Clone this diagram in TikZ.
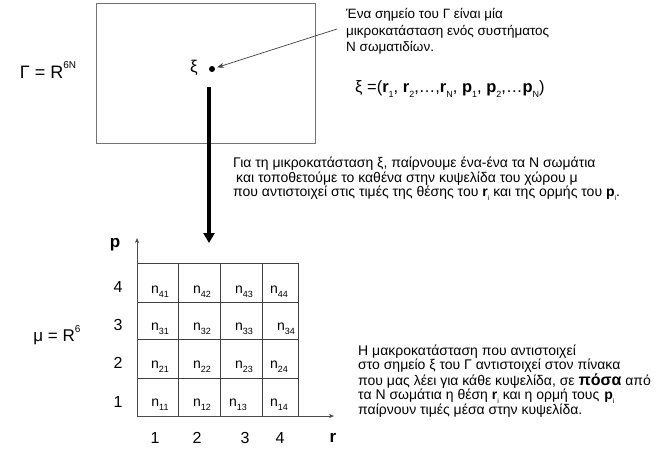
\documentclass[tikz,border=0pt]{standalone}
\usepackage{fontspec}
\setmainfont{Liberation Sans}
\usetikzlibrary{arrows.meta}
\newcommand{\fsz}[2]{\fontsize{#1}{#2}\selectfont}
\newcommand{\lsub}[1]{\raisebox{-0.28em}{\fontsize{9}{9}\selectfont #1}}
\newcommand{\lsubs}[1]{\raisebox{-0.28em}{\fontsize{7}{7}\selectfont #1}}
\newcommand{\lsup}[1]{\raisebox{0.55em}{\fontsize{10}{10}\selectfont #1}}
\begin{document}
\begin{tikzpicture}[x=1pt,y=-1pt,
  txt/.style={inner sep=0pt, align=left, anchor=west},
  lbl/.style={inner sep=0pt},
  gridline/.style={draw=black!75, line width=0.8pt},
  axis/.style={draw=black!70, line width=0.7pt, -{Stealth[length=5pt,width=4pt]}},
  ptr/.style={draw=black!75, line width=0.7pt, -{Stealth[length=7pt,width=5pt]}},
  bigarrow/.style={line width=4pt, -{Triangle[length=10pt,width=11pt]}},
  cell/.style={inner sep=0pt, font=\fsz{14}{14}}]
\useasboundingbox (0,0) rectangle (662,453);

% Gamma space box
\draw[draw=black!55, line width=0.8pt] (96,3) rectangle (315,143);
\node[lbl, font=\fsz{18}{18}] (gam) at (48,70) {Γ = R\lsup{6N}};
\node[lbl, font=\fsz{17}{17}] (xil) at (194,68) {ξ};
\node[circle, fill, inner sep=0pt, minimum size=6pt] (xi) at (212,69) {};

% pointer from text to point
\coordinate (ptrstart) at (337,29);
\draw[ptr, shorten >=2pt] (ptrstart) -- (xi);

% text top right
\node[txt, font=\fsz{13.5}{16.5}] (t1) at (346,31.5)
  {Ένα σημείο του Γ είναι μία\\μικροκατάσταση ενός συστήματος\\Ν σωματιδίων.};
\node[txt, font=\fsz{16.5}{16.5}] (formula) at (355,89)
  {ξ =(\textbf{r}\lsub{1}, \textbf{r}\lsub{2},…,\textbf{r}\lsub{N}, \textbf{p}\lsub{1}, \textbf{p}\lsub{2},…\textbf{p}\lsub{N})};

% big arrow
\coordinate (bstart) at (209,87);
\coordinate (bend) at (209,243);
\draw[bigarrow] (bstart) -- (bend);

% middle text
\node[txt, font=\fsz{14}{14.5}] (t2) at (233,179)
  {Για τη μικροκατάσταση ξ, παίρνουμε ένα-ένα τα Ν σωμάτια\\
   \hspace{3pt}και τοποθετούμε το καθένα στην κυψελίδα του χώρου μ\\
   που αντιστοιχεί στις τιμές της θέσης του \textbf{r}\lsubs{i} και της ορμής του \textbf{p}\lsubs{i}.};

% grid
\foreach \x in {178,220,262,298} \draw[gridline] (\x,263) -- (\x,416);
\foreach \y in {263,302,339,378} \draw[gridline] (137,\y) -- (298,\y);
\coordinate (origin) at (137,416);
\coordinate (ptop) at (137,238);
\coordinate (rend) at (334,416);
\draw[axis] (origin) -- (ptop);
\draw[axis] (origin) -- (rend);

\node[lbl, font=\fsz{17}{17}\bfseries] (plab) at (115,245) {p};
\node[lbl, font=\fsz{17}{17}\bfseries] (rlab) at (333,438) {r};
\node[lbl, font=\fsz{17}{17}] (mu) at (57,335) {μ = R\lsup{6}};

\foreach \t/\y in {4/287,3/325,2/363,1/402}
  \node[lbl, font=\fsz{16}{16}] (row\t) at (118,\y) {\t};
\foreach \t/\x in {1/155,2/197,3/245,4/280}
  \node[lbl, font=\fsz{16}{16}] (col\t) at (\x,438) {\t};

% cell labels
\node[cell] (n41) at (160,292) {n\lsub{41}};
\node[cell] (n42) at (202,292) {n\lsub{42}};
\node[cell] (n43) at (244,292) {n\lsub{43}};
\node[cell] (n44) at (279,292) {n\lsub{44}};
\node[cell] (n31) at (160,329) {n\lsub{31}};
\node[cell] (n32) at (202,329) {n\lsub{32}};
\node[cell] (n33) at (244,329) {n\lsub{33}};
\node[cell] (n34) at (286,329) {n\lsub{34}};
\node[cell] (n21) at (160,367) {n\lsub{21}};
\node[cell] (n22) at (202,367) {n\lsub{22}};
\node[cell] (n23) at (244,367) {n\lsub{23}};
\node[cell] (n24) at (279,367) {n\lsub{24}};
\node[cell] (n11) at (160,405) {n\lsub{11}};
\node[cell] (n12) at (202,405) {n\lsub{12}};
\node[cell] (n13) at (238,405) {n\lsub{13}};
\node[cell] (n14) at (279,405) {n\lsub{14}};

% bottom text
\node[txt, font=\fsz{14}{14.5}] (t3) at (358,381)
  {Η μακροκατάσταση που αντιστοιχεί\\
   στο σημείο ξ του Γ αντιστοιχεί στον πίνακα\\
   που μας λέει για κάθε κυψελίδα, σε {\fontsize{16}{14.5}\selectfont\bfseries πόσα} από\\
   τα Ν σωμάτια η θέση \textbf{r}\lsubs{i} και η ορμή τους\hspace{5pt}\textbf{p}\lsubs{i}\\
   παίρνουν τιμές μέσα στην κυψελίδα.};
\end{tikzpicture}
\end{document}
